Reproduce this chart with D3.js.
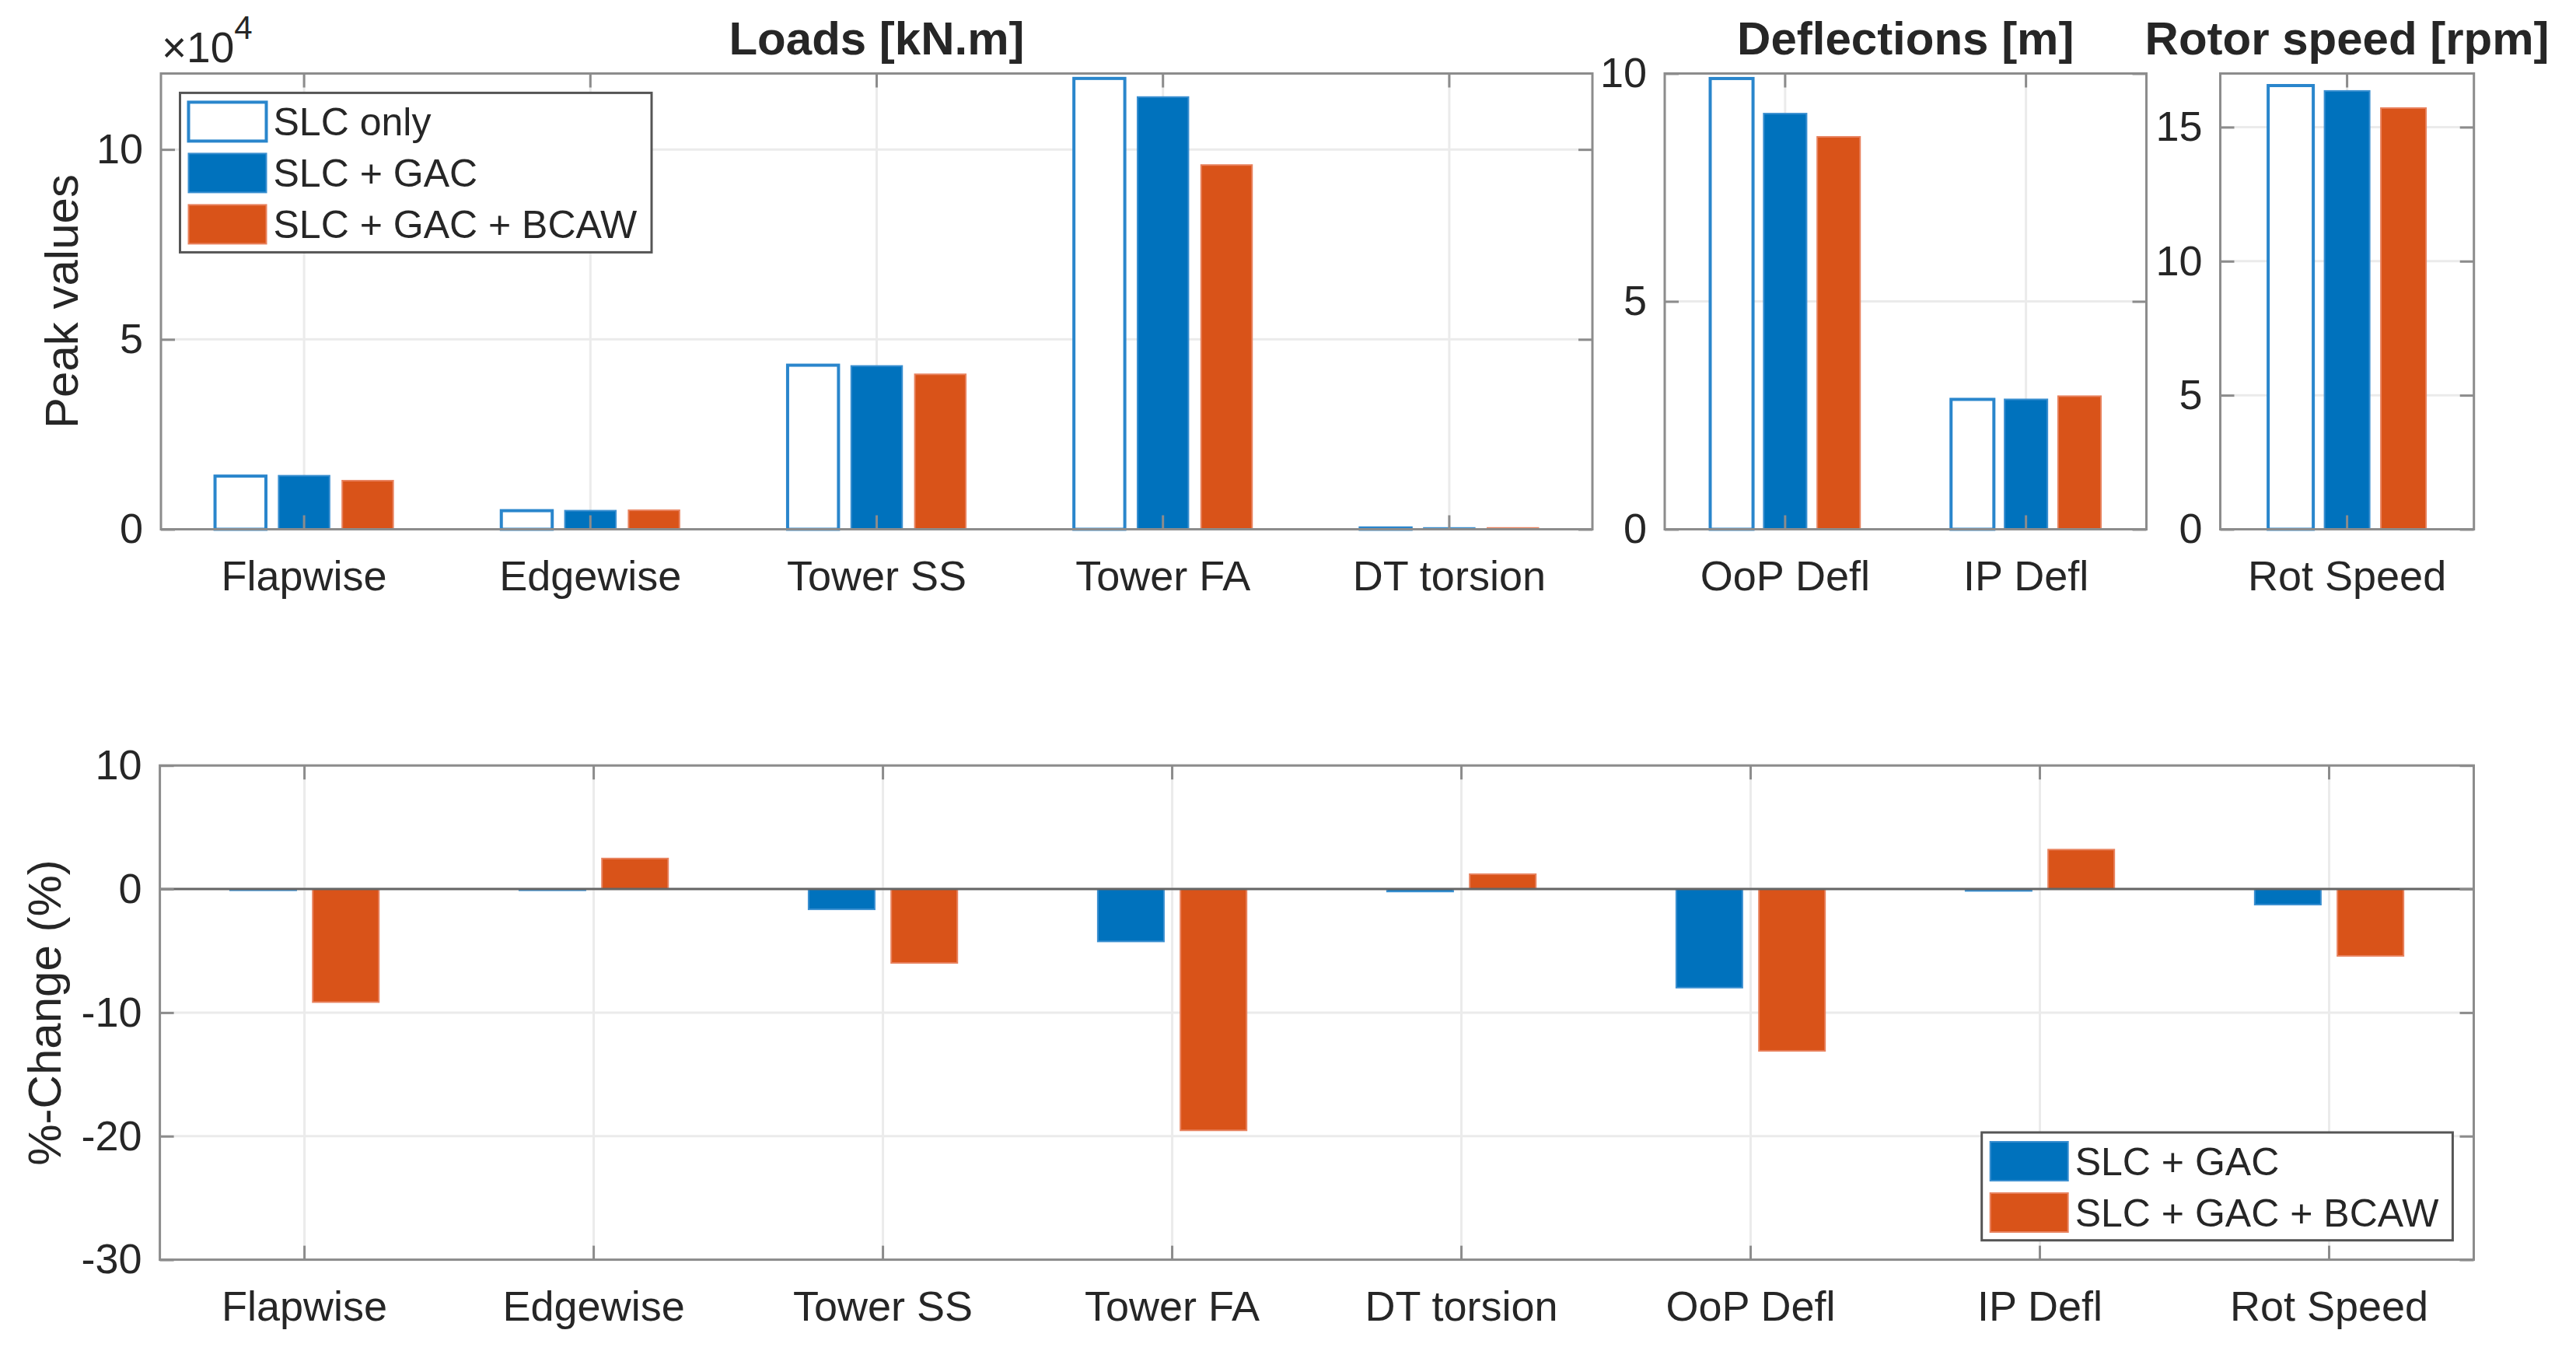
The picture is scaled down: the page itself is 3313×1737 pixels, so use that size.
<!DOCTYPE html>
<html>
<head>
<meta charset="utf-8">
<script src="https://cdn.jsdelivr.net/npm/d3@7"></script>
<style>
  body { margin: 0; background: #fff; }
  svg text { font-family: "Liberation Sans", Arial, Helvetica, sans-serif; fill: #262626; }
</style>
</head>
<body>
<svg id="chart" width="3313" height="1737"></svg>
<script>
// ---- data ----
var seriesNames = ['SLC only', 'SLC + GAC', 'SLC + GAC + BCAW'];

var loadCats = ['Flapwise', 'Edgewise', 'Tower SS', 'Tower FA', 'DT torsion'];
var loadsSLC = [14000, 4900, 43200, 118700, 350];      // kN.m
var loadsGAC = [14100, 4900, 43000, 113800, 350];
var loadsBCAW = [12800, 5000, 40800, 95900, 350];

var deflCats = ['OoP Defl', 'IP Defl'];
var deflSLC = [9.89, 2.85];                          // m
var deflGAC = [9.12, 2.85];
var deflBCAW = [8.61, 2.92];

var rotCats = ['Rot Speed'];
var rotSLC = [16.55];                                // rpm
var rotGAC = [16.35];
var rotBCAW = [15.71];

var changeCats = ['Flapwise', 'Edgewise', 'Tower SS', 'Tower FA', 'DT torsion', 'OoP Defl', 'IP Defl', 'Rot Speed'];
var changeGAC = [-0.1, -0.1, -1.64, -4.24, -0.2, -7.98, -0.15, -1.26];   // %
var changeBCAW = [-9.15, 2.47, -5.98, -19.53, 1.2, -13.1, 3.19, -5.41];

var loadTicks = [0, 50000, 100000];
var deflTicks = [0, 5, 10];
var rotTicks = [0, 5, 10, 15];
var changeTicks = [-30, -20, -10, 0, 10];

// ---- styles ----
var blue = '#0072BD', orange = '#D95319';
var axisCol = '#8c8c8c', gridCol = '#ebebeb';
var styles = [
  { fill: '#ffffff', stroke: '#2a86cc', sw: 4 },
  { fill: blue, stroke: '#3a8fd0', sw: 2 },
  { fill: orange, stroke: '#e8825e', sw: 2 }
];

var svg = d3.select('#chart');
var tickFont = 54;
var plain = function(d) { return String(d); };   // keep the ASCII hyphen for negatives

function drawPanel(opt) {
  var g = svg.append('g');
  var x = d3.scaleBand().domain(opt.cats).range([opt.x0, opt.x1]).padding(0);
  var y = d3.scaleLinear().domain(opt.yDomain).range([opt.y1, opt.y0]);
  var n = opt.series.length;
  var gw = Math.min(0.8, n / (n + 1.5)) * x.bandwidth();
  var xs = d3.scaleBand().domain(d3.range(n)).range([-gw / 2, gw / 2])
    .paddingInner(0.2).paddingOuter(0.1);

  // grid
  g.append('g').selectAll('line').data(opt.yTicks).enter().append('line')
    .attr('x1', opt.x0).attr('x2', opt.x1)
    .attr('y1', function(d) { return y(d); }).attr('y2', function(d) { return y(d); })
    .style('stroke', gridCol).style('stroke-width', 3);
  g.append('g').selectAll('line').data(opt.cats).enter().append('line')
    .attr('y1', opt.y0).attr('y2', opt.y1)
    .attr('x1', function(d) { return x(d) + x.bandwidth() / 2; })
    .attr('x2', function(d) { return x(d) + x.bandwidth() / 2; })
    .style('stroke', gridCol).style('stroke-width', 3);

  // bars
  opt.series.forEach(function(s, i) {
    g.append('g').selectAll('rect').data(s.values).enter().append('rect')
      .attr('x', function(d, j) { return x(opt.cats[j]) + x.bandwidth() / 2 + xs(i); })
      .attr('width', xs.bandwidth())
      .attr('y', function(d) { return y(Math.max(0, d)); })
      .attr('height', function(d) { return Math.abs(y(d) - y(0)); })
      .style('fill', s.style.fill).style('stroke', s.style.stroke)
      .style('stroke-width', s.style.sw);
  });

  // zero baseline
  g.append('line').attr('x1', opt.x0).attr('x2', opt.x1)
    .attr('y1', y(0)).attr('y2', y(0))
    .style('stroke', '#666').style('stroke-width', 3);

  // axes, ticks inward on all four sides
  var fmt = opt.fmt || plain;
  var axes = [
    g.append('g').attr('transform', 'translate(' + opt.x0 + ',0)')
      .call(d3.axisLeft(y).tickValues(opt.yTicks).tickFormat(fmt)
        .tickSizeInner(-18).tickSizeOuter(0).tickPadding(23)),
    g.append('g').attr('transform', 'translate(' + opt.x1 + ',0)')
      .call(d3.axisRight(y).tickValues(opt.yTicks).tickFormat('')
        .tickSizeInner(-18).tickSizeOuter(0)),
    g.append('g').attr('transform', 'translate(0,' + opt.y1 + ')')
      .call(d3.axisBottom(x).tickSizeInner(-18).tickSizeOuter(0).tickPadding(40)),
    g.append('g').attr('transform', 'translate(0,' + opt.y0 + ')')
      .call(d3.axisTop(x).tickFormat('').tickSizeInner(-18).tickSizeOuter(0))
  ];
  axes.forEach(function(a) {
    a.attr('font-size', tickFont).attr('font-family', null);
    a.select('.domain').remove();
    a.selectAll('.tick line').style('stroke', axisCol).style('stroke-width', 3);
  });

  // box
  g.append('rect').attr('x', opt.x0).attr('y', opt.y0)
    .attr('width', opt.x1 - opt.x0).attr('height', opt.y1 - opt.y0)
    .style('fill', 'none').style('stroke', axisCol).style('stroke-width', 3);

  if (opt.title) {
    svg.append('text').attr('x', (opt.x0 + opt.x1) / 2).attr('y', 70)
      .attr('text-anchor', 'middle').style('font-size', '60px').style('font-weight', 'bold')
      .text(opt.title);
  }
  return { x: x, y: y };
}

function legend(x0, y0, w, h, items) {
  var g = svg.append('g');
  g.append('rect').attr('x', x0).attr('y', y0).attr('width', w).attr('height', h)
    .style('fill', '#fff').style('stroke', '#555').style('stroke-width', 3);
  var row = g.selectAll('g.item').data(items).enter().append('g').attr('class', 'item')
    .attr('transform', function(d, i) { return 'translate(' + (x0 + 11) + ',' + (y0 + 12 + i * 66) + ')'; });
  row.append('rect').attr('width', 100).attr('height', 50)
    .style('fill', function(d) { return d.style.fill; })
    .style('stroke', function(d) { return d.style.stroke; })
    .style('stroke-width', function(d) { return d.style.sw; });
  row.append('text').attr('x', 109).attr('y', 43).style('font-size', '50px')
    .text(function(d) { return d.name; });
}

function mk(vals) {
  return vals.map(function(v, i) { return { name: seriesNames[i], values: v, style: styles[i] }; });
}

// ---- top row ----
drawPanel({
  x0: 207, x1: 2048, y0: 94.5, y1: 680.5, cats: loadCats,
  series: mk([loadsSLC, loadsGAC, loadsBCAW]),
  yDomain: [0, 120000], yTicks: loadTicks,
  fmt: function(d) { return String(d / 1e4); },
  title: 'Loads [kN.m]'
});
drawPanel({
  x0: 2141, x1: 2760.5, y0: 94.5, y1: 680.5, cats: deflCats,
  series: mk([deflSLC, deflGAC, deflBCAW]),
  yDomain: [0, 10], yTicks: deflTicks, title: 'Deflections [m]'
});
drawPanel({
  x0: 2855.5, x1: 3181.7, y0: 94.5, y1: 680.5, cats: rotCats,
  series: mk([rotSLC, rotGAC, rotBCAW]),
  yDomain: [0, 17], yTicks: rotTicks, title: 'Rotor speed [rpm]'
});

// exponent label
var ex = svg.append('text').attr('x', 208).attr('y', 80).style('font-size', '55px');
ex.append('tspan').text('\u00d710');
ex.append('tspan').attr('dy', -30).style('font-size', '42px').text('4');

svg.append('text').attr('transform', 'translate(100,387.5) rotate(-90)')
  .attr('text-anchor', 'middle').style('font-size', '60px').text('Peak values');

legend(231.5, 119.4, 606.5, 205, mk([loadsSLC, loadsGAC, loadsBCAW]));

// ---- bottom row ----
var changeSeries = [
  { name: seriesNames[1], values: changeGAC, style: styles[1] },
  { name: seriesNames[2], values: changeBCAW, style: styles[2] }
];
drawPanel({
  x0: 205.6, x1: 3181.5, y0: 984.2, y1: 1619.6, cats: changeCats,
  series: changeSeries, yDomain: [-30, 10], yTicks: changeTicks
});
svg.append('text').attr('transform', 'translate(78,1302) rotate(-90)')
  .attr('text-anchor', 'middle').style('font-size', '60px').text('%-Change (%)');

legend(2548.7, 1456, 605.7, 138.7, changeSeries);
</script>
</body>
</html>
